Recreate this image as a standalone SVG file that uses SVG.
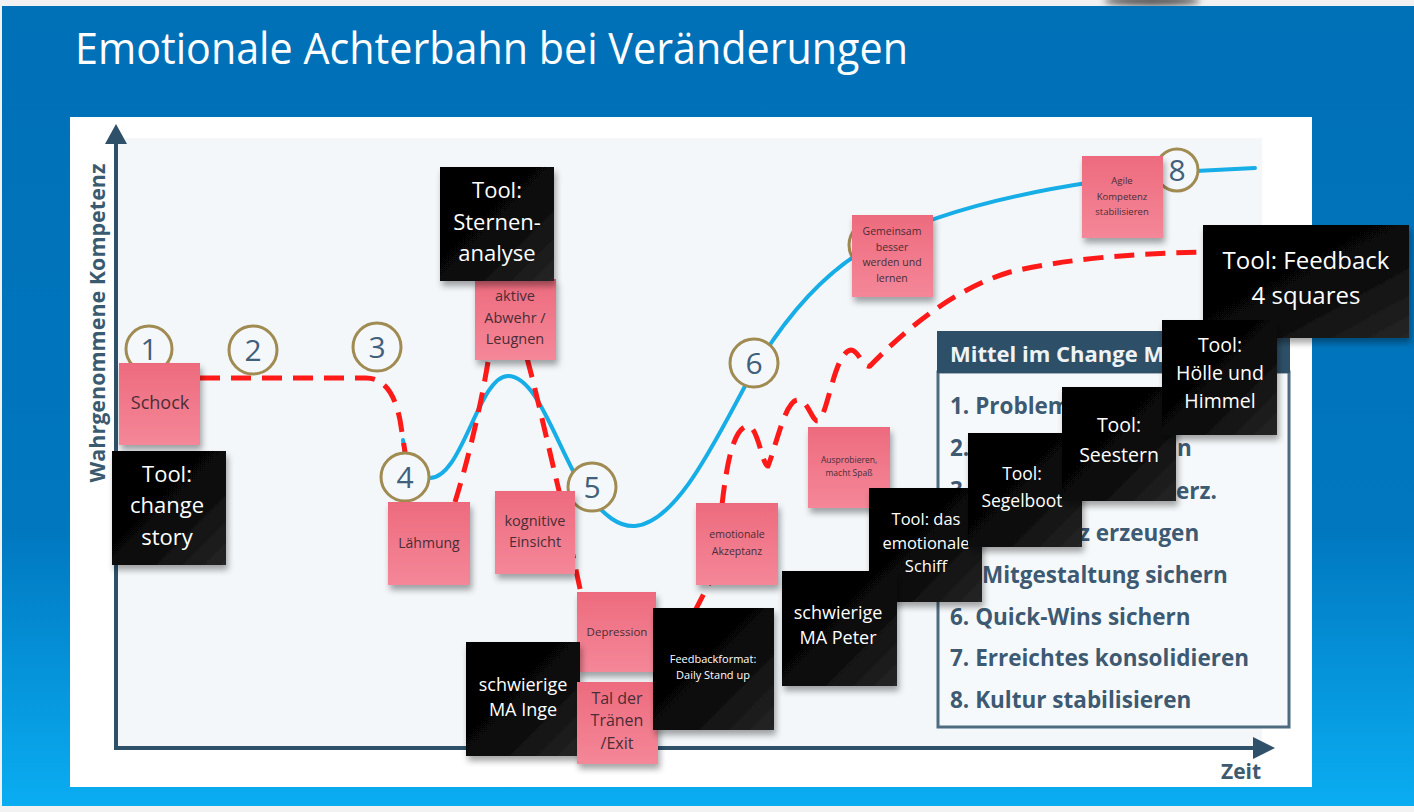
<svg xmlns="http://www.w3.org/2000/svg" width="1414" height="812" viewBox="0 0 1414 812">
<defs>
<linearGradient id="bg" x1="0" y1="0" x2="0" y2="1">
<stop offset="0" stop-color="#0070b7"/>
<stop offset="0.65" stop-color="#0077bf"/>
<stop offset="1" stop-color="#0aadf2"/>
</linearGradient>
<linearGradient id="pink" x1="0" y1="0" x2="0" y2="1">
<stop offset="0" stop-color="#ed6b7e"/>
<stop offset="1" stop-color="#f48798"/>
</linearGradient>
<linearGradient id="blk" x1="0" y1="0" x2="1" y2="1">
<stop offset="0" stop-color="#000"/>
<stop offset="0.55" stop-color="#080808"/>
<stop offset="1" stop-color="#262626"/>
</linearGradient>
<filter id="sh" x="-10%" y="-10%" width="130%" height="135%">
<feDropShadow dx="2" dy="5" stdDeviation="3" flood-color="#000" flood-opacity="0.35"/>
</filter>
<filter id="blur"><feGaussianBlur stdDeviation="3"/></filter>
<style>
.pk{fill:url(#pink);filter:url(#sh)}
.bk{fill:url(#blk);filter:url(#sh)}
.pt{font-family:"Open Sans","Liberation Sans",sans-serif;fill:#4a2d36;text-anchor:middle}
.bt{font-family:"Open Sans","Liberation Sans",sans-serif;fill:#fff;text-anchor:middle}
.circ{fill:#f5f8fb;stroke:#a08b52;stroke-width:3}
.num{font-family:"Open Sans","Liberation Sans",sans-serif;font-size:30px;fill:#41607a;text-anchor:middle}
.lg{font-family:"Open Sans","Liberation Sans",sans-serif;font-weight:bold;font-size:22.5px;fill:#3d5a72}
.axis{stroke:#2e5068;stroke-width:4;fill:none}
.blue{stroke:#17ade6;stroke-width:4;fill:none;stroke-linecap:round}
.red{stroke:#ff1a1a;stroke-width:5;fill:none;stroke-dasharray:20 11}
</style>
</defs>
<rect width="1414" height="812" fill="#f2f2f2"/>
<ellipse cx="1152" cy="1" rx="48" ry="5" fill="#555" filter="url(#blur)"/>
<rect x="2" y="6" width="1412" height="800" fill="url(#bg)"/>
<text x="75" y="64" font-family="Open Sans, Liberation Sans, sans-serif" font-size="44" fill="#fff" textLength="833" lengthAdjust="spacingAndGlyphs">Emotionale Achterbahn bei Veränderungen</text>
<rect x="70" y="117" width="1242" height="670" fill="#fff"/>
<rect x="118" y="138" width="1144" height="609" fill="#f3f7fa"/>

<g id="axes">
<line class="axis" x1="116" y1="748" x2="116" y2="140"/>
<path d="M105 144 L116 124 L127 144 Z" fill="#2e5068"/>
<line class="axis" x1="114" y1="748" x2="1256" y2="748"/>
<path d="M1253 737 L1275 748 L1253 759 Z" fill="#2e5068"/>
<text x="1221" y="779" font-family="Open Sans, Liberation Sans, sans-serif" font-weight="bold" font-size="21" fill="#3e5a6e">Zeit</text>
<text transform="translate(105 323) rotate(-90)" text-anchor="middle" font-family="Open Sans, Liberation Sans, sans-serif" font-weight="bold" font-size="21.5" fill="#3a5a70">Wahrgenommene Kompetenz</text>
</g>

<g id="connectors">
<path class="blue" d="M403 440 L405 455"/>
<path class="blue" d="M428 478 C462 482 478 376 508 376 C540 376 560 460 590 498 C605 515 618 527 635 526 C680 522 720 430 755 368 C790 310 830 268 873 245 C940 210 1040 185 1176 172 L1255 168"/>
<path class="red" d="M200 378 L366 378 C385 378 395 395 400 420 L406 458 L412 505"/>
<path class="red" d="M455 502 C468 460 480 410 488 362"/>
<path class="red" d="M527 358 C537 395 548 445 560 495 L582 598"/>
<path class="red" d="M680 640 L712 578"/>
<path class="red" d="M722 505 C726 470 732 430 747 426 C758 424 762 466 768 466 C776 446 785 402 797 400 C808 399 812 422 818 421 C828 416 834 352 851 350 C859 350 862 368 870 366 C900 335 950 290 1010 272 C1070 258 1140 253 1210 252"/>
</g>

<g id="circles">
<g id="c1"><circle class="circ" cx="149" cy="349" r="23"/><text class="num" x="149" y="360">1</text></g>
<g id="c2"><circle class="circ" cx="253" cy="350" r="24"/><text class="num" x="253" y="361">2</text></g>
<g id="c3"><circle class="circ" cx="377" cy="347" r="24"/><text class="num" x="377" y="358">3</text></g>
<g id="c4"><circle class="circ" cx="405" cy="477" r="24"/><text class="num" x="405" y="488">4</text></g>
<g id="c5"><circle class="circ" cx="592" cy="487" r="24"/><text class="num" x="592" y="498">5</text></g>
<g id="c6"><circle class="circ" cx="754" cy="363" r="24"/><text class="num" x="754" y="374">6</text></g>
<g id="c7"><circle class="circ" cx="873" cy="245" r="24"/></g>
<g id="c8"><circle class="circ" cx="1177" cy="170" r="21"/><text class="num" x="1177" y="181">8</text></g>
</g>

<g id="legend">
<rect x="938" y="372" width="351" height="355" fill="#f6f9fb" stroke="#4f6b80" stroke-width="3"/>
<rect x="937" y="331" width="353" height="42" fill="#2d5068"/>
<text x="950" y="362" font-family="Open Sans, Liberation Sans, sans-serif" font-weight="bold" font-size="22" fill="#eef3f6">Mittel im Change M</text>
<text class="lg" x="950" y="414">1. Problem</text>
<text class="lg" x="950" y="456">2.</text>
<text class="lg" x="1177" y="456">n</text>
<text class="lg" x="950" y="498">3.</text>
<text class="lg" x="1176" y="499">erz.</text>
<text class="lg" x="1079" y="541">z erzeugen</text>
<text class="lg" x="982" y="583">Mitgestaltung sichern</text>
<text class="lg" x="950" y="625">6. Quick-Wins sichern</text>
<text class="lg" x="950" y="666">7. Erreichtes konsolidieren</text>
<text class="lg" x="950" y="708">8. Kultur stabilisieren</text>
</g>

<g id="n-schock"><rect class="pk" x="119" y="363" width="81" height="82"/><text class="pt" x="160" y="409" font-size="18">Schock</text></g>
<g id="n-aktive"><rect class="pk" x="475" y="279" width="81" height="81"/><text class="pt" font-size="14.5"><tspan x="515" y="301">aktive</tspan><tspan x="515" y="323">Abwehr /</tspan><tspan x="515" y="344">Leugnen</tspan></text></g>
<g id="n-laehmung"><rect class="pk" x="388" y="502" width="82" height="83"/><text class="pt" x="429" y="548" font-size="14">Lähmung</text></g>
<g id="n-kognitiv"><rect class="pk" x="495" y="491" width="80" height="83"/><text class="pt" font-size="14.5"><tspan x="535" y="526">kognitive</tspan><tspan x="535" y="547">Einsicht</tspan></text></g>
<g id="n-depression"><rect class="pk" x="577" y="592" width="79" height="80"/><text class="pt" x="617" y="636" font-size="11.5">Depression</text></g>
<g id="n-emotional"><rect class="pk" x="696" y="503" width="82" height="82"/><text class="pt" font-size="10.5"><tspan x="737" y="538">emotionale</tspan><tspan x="737" y="555">Akzeptanz</tspan></text></g>
<g id="n-auspro"><rect class="pk" x="808" y="427" width="82" height="81"/><text class="pt" font-size="8.5"><tspan x="849" y="463">Ausprobieren,</tspan><tspan x="849" y="476">macht Spaß</tspan></text></g>
<g id="n-gemeinsam"><rect class="pk" x="852" y="215" width="81" height="82"/><text class="pt" font-size="10.5"><tspan x="892" y="235">Gemeinsam</tspan><tspan x="892" y="251">besser</tspan><tspan x="892" y="266">werden und</tspan><tspan x="892" y="282">lernen</tspan></text></g>
<g id="n-agile"><rect class="pk" x="1082" y="156" width="81" height="82"/><text class="pt" font-size="9.5"><tspan x="1122" y="184">Agile</tspan><tspan x="1122" y="200">Kompetenz</tspan><tspan x="1122" y="215">stabilisieren</tspan></text></g>

<g id="n-sternen"><rect class="bk" x="440" y="167" width="114" height="114"/><text class="bt" font-size="22"><tspan x="497" y="198">Tool:</tspan><tspan x="497" y="230">Sternen-</tspan><tspan x="497" y="261">analyse</tspan></text></g>
<g id="n-change"><rect class="bk" x="112" y="451" width="114" height="114"/><text class="bt" font-size="22"><tspan x="167" y="482">Tool:</tspan><tspan x="167" y="513">change</tspan><tspan x="167" y="545">story</tspan></text></g>
<g id="n-inge"><rect class="bk" x="466" y="642" width="114" height="114"/><text class="bt" font-size="18"><tspan x="523" y="691">schwierige</tspan><tspan x="523" y="716">MA Inge</tspan></text></g>
<g id="n-tal"><rect class="pk" x="577" y="682" width="81" height="82"/><text class="pt" font-size="16"><tspan x="617" y="704">Tal der</tspan><tspan x="617" y="726">Tränen</tspan><tspan x="617" y="749">/Exit</tspan></text></g>
<g id="n-feedbackformat"><rect class="bk" x="653" y="608" width="121" height="122"/><text class="bt" font-size="11"><tspan x="713" y="663">Feedbackformat:</tspan><tspan x="713" y="679">Daily Stand up</tspan></text></g>
<g id="n-schiff"><rect class="bk" x="869" y="488" width="113" height="114"/><text class="bt" font-size="16.5"><tspan x="926" y="525">Tool: das</tspan><tspan x="926" y="549">emotionale</tspan><tspan x="926" y="572">Schiff</tspan></text></g>
<g id="n-peter"><rect class="bk" x="782" y="571" width="115" height="115"/><text class="bt" font-size="18"><tspan x="838" y="619">schwierige</tspan><tspan x="838" y="644">MA Peter</tspan></text></g>
<g id="n-segelboot"><rect class="bk" x="968" y="433" width="114" height="114"/><text class="bt" font-size="17.5"><tspan x="1022" y="480">Tool:</tspan><tspan x="1022" y="507">Segelboot</tspan></text></g>
<g id="n-seestern"><rect class="bk" x="1062" y="387" width="114" height="114"/><text class="bt" font-size="19.5"><tspan x="1119" y="432">Tool:</tspan><tspan x="1119" y="462">Seestern</tspan></text></g>
<g id="n-feedback4"><rect class="bk" x="1203" y="225" width="206" height="113"/><text class="bt" font-size="24"><tspan x="1306" y="269">Tool: Feedback</tspan><tspan x="1306" y="304">4 squares</tspan></text></g>
<g id="n-hoelle"><rect class="bk" x="1162" y="320" width="115" height="115"/><text class="bt" font-size="19.5"><tspan x="1220" y="352">Tool:</tspan><tspan x="1220" y="380">Hölle und</tspan><tspan x="1220" y="408">Himmel</tspan></text></g>
</svg>
